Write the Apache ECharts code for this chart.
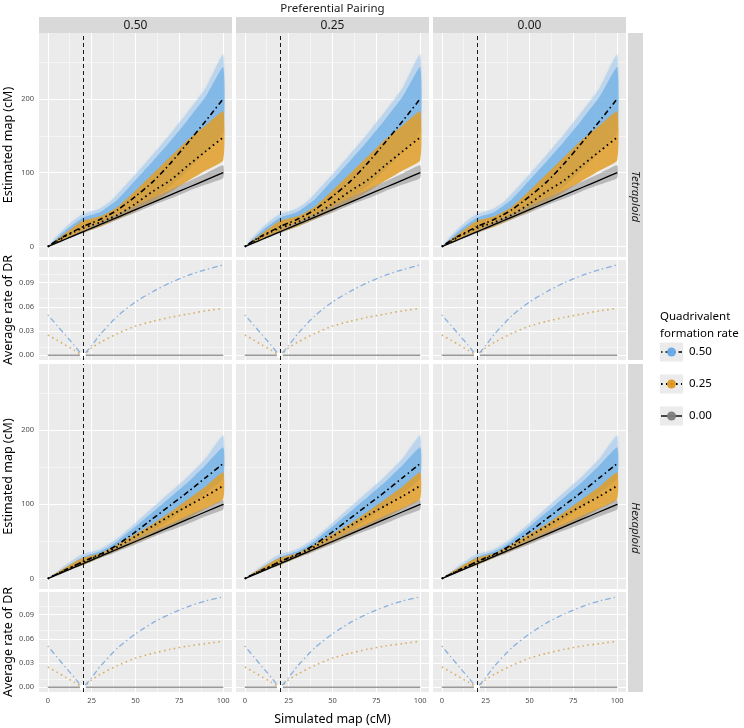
<!DOCTYPE html>
<html><head><meta charset="utf-8">
<script src="https://cdn.jsdelivr.net/npm/echarts@6/dist/echarts.min.js"></script>
<style>html,body{margin:0;padding:0;background:#fff}#chart{width:744px;height:728px}</style>
</head><body><div id="chart"></div>
<script>
// ---------------- data ----------------
const pairingLevels = ['0.50', '0.25', '0.00'];
const ploidyLevels = ['Tetraploid', 'Hexaploid'];
const groupLevels = ['0.50', '0.25', '0.00'];

const xTicks = [0, 25, 50, 75, 100];
const xMinor = [12.5, 37.5, 62.5, 87.5];
const estTicks = [0, 100, 200];
const estMinor = [50, 150, 250];
const drTicks = [0, 0.03, 0.06, 0.09];
const drMinor = [0.015, 0.045, 0.075, 0.105];
const markerPos = 20;

const xEst = [0, 5, 10, 15, 20, 25, 30, 35, 40, 50, 60, 70, 80, 90, 100];
// Tetraploid estimated map
const tetMean50 = [0, 8, 15, 21, 27, 32, 37, 43, 50, 68, 88, 113, 141, 170, 200];
const tetMean25 = [0, 7, 14, 20, 25, 29, 33, 38, 43, 58, 75, 90, 110, 129, 148];
const tetMean00 = [0, 5, 10, 15, 20, 25, 30, 35, 40, 50, 60, 70, 80, 90, 100];
const tetBlueHiOuter = [0, 14, 26, 36, 44, 48, 52, 60, 72, 98, 125, 153, 183, 215, 260];
const tetBlueHi = [0, 11, 22, 31, 39, 43, 47, 55, 64, 90, 116, 143, 172, 203, 243];
const tetBlueLo = [0, 5, 10, 15, 20, 24, 28, 33, 38, 50, 64, 82, 104, 128, 155];
const tetOrangeHi = [0, 9, 18, 27, 35, 38, 41, 47, 54, 76, 99, 122, 145, 164, 183];
const tetOrangeLo = [0, 5, 10, 15, 19, 23, 27, 32, 37, 48, 60, 74, 89, 103, 117];
const tetGreyHi = [0, 6, 11, 17, 22, 28, 33, 39, 44, 55, 66, 77, 88, 99, 110];
const tetGreyLo = [0, 4, 9, 14, 18, 23, 28, 32, 37, 46, 56, 65, 75, 84, 93];
// Hexaploid estimated map
const hexMean50 = [0, 6, 12, 17, 23, 28, 33, 39, 46, 63, 81, 99, 117, 136, 155];
const hexMean25 = [0, 6, 11, 17, 22, 27, 32, 37, 43, 57, 71, 85, 98, 111, 125];
const hexMean00 = [0, 5, 10, 15, 20, 25, 30, 35, 40, 50, 60, 70, 80, 90, 100];
const hexBlueHiOuter = [0, 9, 18, 26, 33, 36, 40, 47, 55, 75, 96, 117, 138, 162, 193];
const hexBlueHi = [0, 7, 15, 22, 29, 33, 37, 43, 51, 70, 90, 110, 130, 153, 177];
const hexBlueLo = [0, 5, 10, 14, 19, 24, 29, 34, 40, 52, 65, 80, 97, 115, 135];
const hexOrangeHi = [0, 8, 15, 22, 28, 31, 34, 40, 46, 60, 74, 90, 107, 124, 143];
const hexOrangeLo = [0, 5, 9, 14, 18, 23, 28, 33, 38, 48, 58, 69, 81, 94, 107];
const hexGreyHi = [0, 6, 11, 16, 21, 27, 32, 37, 42, 53, 64, 74, 85, 95, 106];
const hexGreyLo = [0, 4, 9, 14, 18, 23, 28, 32, 37, 46, 56, 65, 74, 84, 93];

// Average rate of double reduction
const xDR = [0, 5, 10, 15, 20, 25, 30, 40, 50, 60, 70, 80, 90, 100];
const tetDR50 = [0.050, 0.0375, 0.025, 0.0125, 0.0005, 0.012, 0.026, 0.049, 0.066, 0.079, 0.090, 0.099, 0.106, 0.112];
const tetDR25 = [0.025, 0.019, 0.0125, 0.0063, 0.0005, 0.009, 0.016, 0.027, 0.036, 0.042, 0.047, 0.051, 0.055, 0.058];
const tetDR00 = [0, 0, 0, 0, 0, 0, 0, 0, 0, 0, 0, 0, 0, 0];
const hexDR50 = [0.051, 0.038, 0.025, 0.0125, 0.0005, 0.012, 0.026, 0.049, 0.066, 0.080, 0.091, 0.100, 0.107, 0.112];
const hexDR25 = [0.025, 0.019, 0.0125, 0.0063, 0.0005, 0.009, 0.016, 0.027, 0.036, 0.042, 0.047, 0.051, 0.054, 0.057];
const hexDR00 = [0, 0, 0, 0, 0, 0, 0, 0, 0, 0, 0, 0, 0, 0];

const estData = [
  {mean50: tetMean50, mean25: tetMean25, mean00: tetMean00, blueHiO: tetBlueHiOuter, blueHi: tetBlueHi, blueLo: tetBlueLo,
   orangeHi: tetOrangeHi, orangeLo: tetOrangeLo, greyHi: tetGreyHi, greyLo: tetGreyLo},
  {mean50: hexMean50, mean25: hexMean25, mean00: hexMean00, blueHiO: hexBlueHiOuter, blueHi: hexBlueHi, blueLo: hexBlueLo,
   orangeHi: hexOrangeHi, orangeLo: hexOrangeLo, greyHi: hexGreyHi, greyLo: hexGreyLo}
];
const drData = [
  {dr50: tetDR50, dr25: tetDR25, dr00: tetDR00},
  {dr50: hexDR50, dr25: hexDR25, dr00: hexDR00}
];

// ---------------- layout / style ----------------
const FONT = '"Noto Sans", "Open Sans", sans-serif';
const colLeft = [39, 236, 433];
const panelW = 193;
const rows = [
  {top: 33, h: 224, type: 'est', p: 0},
  {top: 260, h: 100, type: 'dr', p: 0},
  {top: 364, h: 225, type: 'est', p: 1},
  {top: 592, h: 100, type: 'dr', p: 1}
];
const estRange = [-14, 289];
const drRange = [-0.006, 0.118];
const xRange = [-5, 105];
const DASHDOT = [1.5, 3, 5.5, 3];
const DOT = [1.6, 3.4];

const chart = echarts.init(document.getElementById('chart'));
const grids = [], xAxes = [], yAxes = [], series = [];

function bandSeries(g, xs, lo, hi, color, z, blur) {
  return {
    type: 'custom', xAxisIndex: g, yAxisIndex: g, z: z, silent: true,
    data: xs.map((x, i) => [x, lo[i], hi[i]]),
    encode: {x: 0, y: [1, 2]},
    renderItem: function (params, api) {
      if (params.dataIndex !== 0) return null;
      const top = xs.map((x, i) => api.coord([x, hi[i]]));
      const bot = xs.map((x, i) => api.coord([x, lo[i]])).reverse();
      const style = {fill: color};
      if (blur) { style.shadowBlur = blur; style.shadowColor = color; }
      return {type: 'polygon', shape: {points: top.concat(bot), smooth: 0.15}, style: style, silent: true};
    }
  };
}
function lineSeries(g, xs, ys, color, width, type, z, extra) {
  return Object.assign({
    type: 'line', xAxisIndex: g, yAxisIndex: g, z: z, silent: true,
    data: xs.map((x, i) => [x, ys[i]]),
    showSymbol: false, smooth: 0.25,
    lineStyle: {color: color, width: width, type: type, cap: 'butt'}
  }, extra || {});
}

let g = 0;
rows.forEach((row, r) => {
  colLeft.forEach((left, c) => {
    const isEst = row.type === 'est';
    const bottomRow = r === rows.length - 1;
    const leftCol = c === 0;
    const yt = isEst ? estTicks : drTicks;
    const ym = isEst ? estMinor : drMinor;
    grids.push({left: left, top: row.top, width: panelW, height: row.h, show: true,
      backgroundColor: '#EBEBEB', borderWidth: 0});
    xAxes.push({type: 'value', gridIndex: g, min: xRange[0], max: xRange[1],
      axisLine: {show: false}, splitLine: {show: false},
      axisTick: {show: bottomRow, customValues: xTicks, length: 3, lineStyle: {color: '#333', width: 1}},
      axisLabel: {show: bottomRow, customValues: xTicks, fontSize: 7.5, color: '#4D4D4D', margin: 5, fontFamily: FONT}});
    yAxes.push({type: 'value', gridIndex: g, min: isEst ? estRange[0] : drRange[0], max: isEst ? estRange[1] : drRange[1],
      axisLine: {show: false}, splitLine: {show: false},
      axisTick: {show: leftCol, customValues: yt, length: 3, lineStyle: {color: '#333', width: 1}},
      axisLabel: {show: leftCol, customValues: yt, fontSize: 7.5, color: '#4D4D4D', margin: 5, fontFamily: FONT,
        formatter: isEst ? (v => String(Math.round(v))) : (v => v.toFixed(2))}});
    // panel grid lines
    const gl = [];
    xTicks.forEach(v => gl.push({xAxis: v, lineStyle: {color: '#fff', width: 1, type: 'solid'}}));
    xMinor.forEach(v => gl.push({xAxis: v, lineStyle: {color: '#fff', width: 0.5, type: 'solid'}}));
    yt.forEach(v => gl.push({yAxis: v, lineStyle: {color: '#fff', width: 1, type: 'solid'}}));
    ym.forEach(v => gl.push({yAxis: v, lineStyle: {color: '#fff', width: 0.5, type: 'solid'}}));
    series.push({type: 'line', xAxisIndex: g, yAxisIndex: g, data: [], silent: true, z: 1,
      markLine: {silent: true, z: 1, symbol: ['none', 'none'], label: {show: false}, animation: false, data: gl}});

    if (isEst) {
      const d = estData[row.p];
      series.push(bandSeries(g, xEst, d.blueLo, d.blueHiO, 'rgba(150,196,238,0.45)', 2, 3));
      series.push(bandSeries(g, xEst, d.blueLo, d.blueHi, 'rgba(110,174,229,0.72)', 2, 0));
      series.push(bandSeries(g, xEst, d.orangeLo, d.orangeHi, 'rgba(226,158,40,0.85)', 3, 0));
      series.push(bandSeries(g, xEst, d.greyLo, d.greyHi, 'rgba(150,150,150,0.6)', 3, 0));
      series.push(lineSeries(g, xEst, d.mean00, '#000', 1.3, 'solid', 6));
      series.push(lineSeries(g, xEst, d.mean25, '#000', 1.8, DOT, 6));
      series.push(lineSeries(g, xEst, d.mean50, '#000', 1.6, DASHDOT, 6));
    } else {
      const d = drData[row.p];
      series.push(lineSeries(g, xDR, d.dr00, '#9A9A9A', 1.5, 'solid', 5, {smooth: false,
        showSymbol: true, symbol: 'none',
        data: xDR.map((x, i) => x === markerPos ? {value: [x, d.dr00[i]], symbol: 'emptyCircle', symbolSize: 4,
          itemStyle: {color: '#fff', borderColor: '#B9A27A', borderWidth: 1}} : [x, d.dr00[i]])}));
      series.push(lineSeries(g, xDR, d.dr25, 'rgba(214,168,88,0.9)', 1.6, DOT, 5, {smooth: 0.2}));
      series.push(lineSeries(g, xDR, d.dr50, 'rgba(125,170,222,0.9)', 1.3, DASHDOT, 5, {smooth: 0.2}));
    }
    // reference line at the marker position
    series.push({type: 'line', xAxisIndex: g, yAxisIndex: g, data: [], silent: true, z: 10,
      markLine: {silent: true, z: 10, symbol: ['none', 'none'], label: {show: false}, animation: false,
        data: [{xAxis: markerPos, lineStyle: {color: '#1a1a1a', width: 1, type: [4, 3]}}]}});
    g++;
  });
});

// ---------------- text / strips / legend ----------------
const graphics = [];
function txt(text, x, y, size, opts) {
  opts = opts || {};
  return {type: 'text', x: x, y: y, rotation: opts.rotation || 0, silent: true, z: 100,
    style: {text: text, fill: opts.fill || '#1A1A1A', fontSize: size, fontFamily: FONT,
      fontStyle: opts.italic ? 'italic' : 'normal',
      align: opts.align || 'center', verticalAlign: 'middle',
      textAlign: opts.align || 'center', textVerticalAlign: 'middle'}};
}
const plotLeft = colLeft[0], plotRight = colLeft[2] + panelW;
graphics.push(txt('Preferential Pairing', (plotLeft + plotRight) / 2, 8.5, 11.5));
colLeft.forEach((left, c) => {
  graphics.push({type: 'rect', silent: true, z: 50, shape: {x: left, y: 17, width: panelW, height: 16}, style: {fill: '#D9D9D9'}});
  graphics.push(txt(pairingLevels[c], left + panelW / 2, 25.5, 12));
});
const stripX = 628, stripW = 15;
[[rows[0].top, rows[1].top + rows[1].h], [rows[2].top, rows[3].top + rows[3].h]].forEach((span, p) => {
  graphics.push({type: 'rect', silent: true, z: 50, shape: {x: stripX, y: span[0], width: stripW, height: span[1] - span[0]}, style: {fill: '#D9D9D9'}});
  graphics.push(txt(ploidyLevels[p], stripX + stripW / 2, (span[0] + span[1]) / 2, 11.5, {rotation: -Math.PI / 2, italic: true}));
});
rows.forEach(row => {
  graphics.push(txt(row.type === 'est' ? 'Estimated map (cM)' : 'Average rate of DR', 8, row.top + row.h / 2, 12.5,
    {rotation: Math.PI / 2, fill: '#000'}));
});
graphics.push(txt('Simulated map (cM)', (plotLeft + plotRight) / 2, 719, 12.5, {fill: '#000'}));

// legend
const legX = 660;
graphics.push(txt('Quadrivalent', legX, 317, 11.5, {align: 'left', fill: '#000'}));
graphics.push(txt('formation rate', legX, 334, 11.5, {align: 'left', fill: '#000'}));
const legY = [352, 384, 416];
const legColors = ['rgba(100,168,230,0.95)', 'rgba(222,152,35,0.95)', 'rgba(125,125,125,0.95)'];
const legDash = [DASHDOT, DOT, null];
const legWidth = [1.4, 1.8, 1.4];
groupLevels.forEach((lab, i) => {
  const cy = legY[i];
  graphics.push({type: 'rect', silent: true, z: 50, shape: {x: legX, y: cy - 9.5, width: 23, height: 19}, style: {fill: '#EBEBEB'}});
  graphics.push({type: 'line', silent: true, z: 51, shape: {x1: legX + 1, y1: cy, x2: legX + 22, y2: cy},
    style: {stroke: '#000', lineWidth: legWidth[i], lineDash: legDash[i]}});
  graphics.push({type: 'circle', silent: true, z: 52, shape: {cx: legX + 11.5, cy: cy, r: 4.5}, style: {fill: legColors[i]}});
  graphics.push(txt(lab, legX + 29, cy, 11.5, {align: 'left', fill: '#000'}));
});

chart.setOption({
  animation: false,
  backgroundColor: '#fff',
  grid: grids, xAxis: xAxes, yAxis: yAxes, series: series,
  graphic: {elements: graphics}
});
</script></body></html>
